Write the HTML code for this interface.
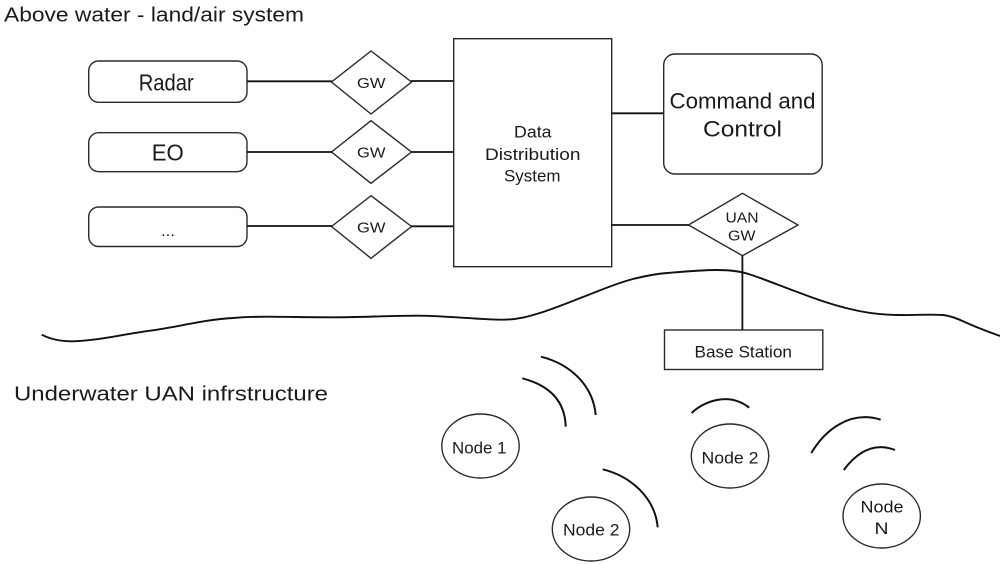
<!DOCTYPE html>
<html><head><meta charset="utf-8"><style>html,body{margin:0;padding:0;background:#fff}svg{display:block}text{font-family:"Liberation Sans",sans-serif;fill:#1a1a1a}</style></head>
<body>
<svg width="1000" height="564" viewBox="0 0 1000 564" xmlns="http://www.w3.org/2000/svg">
<g fill="none" stroke="#2a2a2a" stroke-width="1.4">
<rect x="88.700" y="61" width="158.300" height="41.300" rx="10"/>
<rect x="88.700" y="132.700" width="158.300" height="39" rx="10"/>
<rect x="88.700" y="207" width="158.300" height="39.500" rx="10"/>
<rect x="663.700" y="54" width="158.500" height="120" rx="11"/>
<rect x="453.700" y="38.700" width="158" height="228"/>
<rect x="664.500" y="330" width="158.300" height="39.500"/>
<polygon points="371,51 411.500,82 371,114 331.500,82"/>
<polygon points="371,120.700 411.500,152 371,183.300 331.500,152"/>
<polygon points="371,195.700 411.500,226.500 371,258.300 331.500,226.500"/>
<polygon points="742.500,193.300 798,225 742.500,255.700 688.500,225"/>
<ellipse cx="480.500" cy="446" rx="38.700" ry="32"/>
<ellipse cx="730" cy="456" rx="38.700" ry="32"/>
<ellipse cx="591" cy="529" rx="38.700" ry="32"/>
<ellipse cx="881.700" cy="516" rx="38.700" ry="32"/>
</g>
<g fill="none" stroke="#111" stroke-width="1.800">
<path d="M247 81.300H332M411 81H453.500M247 152H332M411 152H453.500M247 226H332M411 226.300H453.500M612 113.300H664M612 225H688.500"/>
<path d="M742.400 256V330"/>
<path d="M41.700 334.700C50 339 60 341.500 73 341.300C95 341 122 334.500 150 330.700C180 326.500 205 319.500 233 318C245 317 255 316.700 267 316.700C290 316.800 310 317.300 333 317.300C360 317.300 390 315.700 417 315.700C445 315.600 480 319.800 503 319.700C520 319.500 530 316 543 312C557 307.500 570 302 583 297C600 290.500 617 283 633 279C645 276 655 274 667 273C685 271.500 700 270 717 270C730 270 740 271 750 274.500C767 280 783 287 800 293C817 299.500 833 305 850 309C866 313 883 315 900 315C915 315.300 930 314 943 315C952 316 959 319.500 967 323C978 328 989 332 1000 336" stroke-width="1.900"/>
<g stroke-width="2">
<path d="M541 356.700C570 364 593 385 595.700 415"/>
<path d="M522.300 378.300C548 385 565 400 565.700 426.700"/>
<path d="M602.700 469.300C630 476 655 497 657.700 527.300"/>
<path d="M691.700 413C703 402 728 391 749.300 407.700"/>
<path d="M811.300 453C825 430 850 410 880.700 419.700"/>
<path d="M843.700 470C855 455 872 441 895 450"/>
</g>
</g>
<g lengthAdjust="spacingAndGlyphs">
<text x="4" y="21.700" font-size="20.500" textLength="300" lengthAdjust="spacingAndGlyphs">Above water - land/air system</text>
<text x="14" y="400.700" font-size="20.500" textLength="314" lengthAdjust="spacingAndGlyphs">Underwater UAN infrstructure</text>
<text x="138.700" y="90.700" font-size="23" textLength="55" lengthAdjust="spacingAndGlyphs">Radar</text>
<text x="151.700" y="160.700" font-size="23" textLength="32" lengthAdjust="spacingAndGlyphs">EO</text>
<text x="161" y="236" font-size="16" textLength="14" lengthAdjust="spacingAndGlyphs">...</text>
<text x="669.500" y="108.300" font-size="22.500" textLength="146" lengthAdjust="spacingAndGlyphs">Command and</text>
<text x="703" y="136.700" font-size="22.500" textLength="79" lengthAdjust="spacingAndGlyphs">Control</text>
<text x="514" y="137.300" font-size="16.500" textLength="37.500" lengthAdjust="spacingAndGlyphs">Data</text>
<text x="485" y="160" font-size="16.500" textLength="95.500" lengthAdjust="spacingAndGlyphs">Distribution</text>
<text x="504" y="181.700" font-size="16.500" textLength="56.500" lengthAdjust="spacingAndGlyphs">System</text>
<text x="357" y="88" font-size="14.500" textLength="28.500" lengthAdjust="spacingAndGlyphs">GW</text>
<text x="357" y="157.700" font-size="14.500" textLength="28.500" lengthAdjust="spacingAndGlyphs">GW</text>
<text x="357" y="232.300" font-size="14.500" textLength="28.500" lengthAdjust="spacingAndGlyphs">GW</text>
<text x="725.500" y="222.700" font-size="14.500" textLength="33" lengthAdjust="spacingAndGlyphs">UAN</text>
<text x="728" y="240.700" font-size="14.500" textLength="27.500" lengthAdjust="spacingAndGlyphs">GW</text>
<text x="694.500" y="357.300" font-size="16.500" textLength="97.500" lengthAdjust="spacingAndGlyphs">Base Station</text>
<text x="452" y="453.300" font-size="16.500" textLength="54.500" lengthAdjust="spacingAndGlyphs">Node 1</text>
<text x="701.500" y="463.300" font-size="16.500" textLength="57" lengthAdjust="spacingAndGlyphs">Node 2</text>
<text x="563" y="535.700" font-size="16.500" textLength="56.500" lengthAdjust="spacingAndGlyphs">Node 2</text>
<text x="860.500" y="512.700" font-size="16.500" textLength="43" lengthAdjust="spacingAndGlyphs">Node</text>
<text x="874.500" y="534" font-size="16.500" textLength="14" lengthAdjust="spacingAndGlyphs">N</text>
</g>
</svg>
</body></html>
